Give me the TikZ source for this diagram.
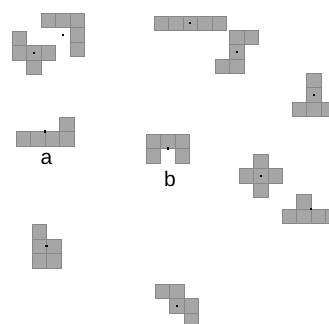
\documentclass[tikz,border=0pt]{standalone}
\usepackage{fontspec}
\setmainfont{Liberation Sans}
\definecolor{cellfill}{RGB}{166,166,166}
\definecolor{cellline}{RGB}{135,135,135}
\tikzset{
  cellbox/.style={fill=cellfill,draw=cellline,line width=0.35pt},
  pivot/.style={fill=black,draw=none,inner sep=0pt,minimum size=1.2pt,rectangle},
  lbl/.style={anchor=base,inner sep=0pt,font=\fontsize{10.5}{12}\selectfont}
}
\newcommand\shapecells[3]{\foreach \i/\j in {#3}{\draw[cellbox] ({#1+\i*14.5},{#2+\j*14.5}) rectangle ++(14.5,14.5);}}
\begin{document}
\begin{tikzpicture}[x=0.5pt,y=-0.5pt]
\useasboundingbox (0,0) rectangle (329,324);
\clip (0,0) rectangle (329,324);
% 1
\shapecells{12}{31}{0/0,0/1,1/1,2/1,1/2}
\node[pivot] (p1) at (33.75,52.75) {};
% 2
\shapecells{41}{13}{0/0,1/0,2/0,2/1,2/2}
\node[pivot] (p2) at (62.75,34.75) {};
% 3
\shapecells{154}{16}{0/0,1/0,2/0,3/0,4/0}
\node[pivot] (p3) at (190.25,23.25) {};
% 4
\shapecells{215}{30}{1/0,2/0,1/1,0/2,1/2}
\node[pivot] (p4) at (236.75,51.75) {};
% 5
\shapecells{292}{73}{1/0,1/1,0/2,1/2,2/2}
\node[pivot] (p5) at (313.75,94.75) {};
% 6 (a)
\shapecells{16}{117}{3/0,0/1,1/1,2/1,3/1}
\node[pivot] (p6) at (45,131.5) {};
\node[lbl] (la) at (46.5,165) {a};
% 7 (b)
\shapecells{146}{134}{0/0,1/0,2/0,0/1,2/1}
\node[pivot] (p7) at (167.75,148.5) {};
\node[lbl] (lb) at (170,187) {b};
% 8
\shapecells{239}{154}{1/0,0/1,1/1,2/1,1/2}
\node[pivot] (p8) at (260.75,175.75) {};
% 9
\shapecells{282}{194.5}{1/0,0/1,1/1,2/1,3/1}
\node[pivot] (p9) at (311,209) {};
% 10
\shapecells{32}{224.5}{0/0,0/1,1/1,0/2,1/2}
\node[pivot] (p10) at (46.5,246.25) {};
% 11
\shapecells{155}{284}{0/0,1/0,1/1,2/1,2/2}
\node[pivot] (p11) at (176.75,305.75) {};
\end{tikzpicture}
\end{document}
